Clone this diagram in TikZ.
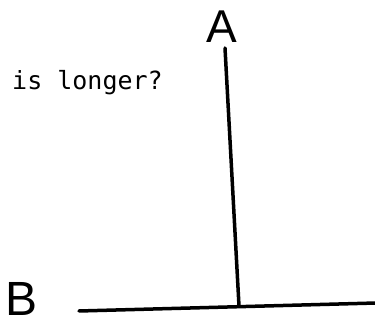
\documentclass[tikz,border=0pt]{standalone}
\usepackage{fontspec}
\newfontfamily\monof{DejaVu Sans Mono}
\newfontfamily\handf{Liberation Sans}
\begin{document}
\begin{tikzpicture}[x=1pt,y=1pt,
  lbl/.style={inner sep=0pt,anchor=base,font=\handf},
  seg/.style={line width=3.5pt,line cap=round}]
\useasboundingbox (0,0) rectangle (375,326);
\node[lbl,font=\handf\fontsize{46}{46}\selectfont] (A) at (222,283) {A};
\node[lbl,font=\handf\fontsize{48}{48}\selectfont] (B) at (22,10) {B};
\node[inner sep=0pt,anchor=base west,font=\monof\fontsize{25}{25}\selectfont] (q) at (12,236) {is longer?};
\coordinate (atop) at (225,278);
\coordinate (afoot) at (239,20);
\coordinate (bl) at (79,15);
\coordinate (br) at (376,23);
\draw[seg] (bl) -- (br);
\draw[seg] (atop) -- (afoot);
\end{tikzpicture}
\end{document}
